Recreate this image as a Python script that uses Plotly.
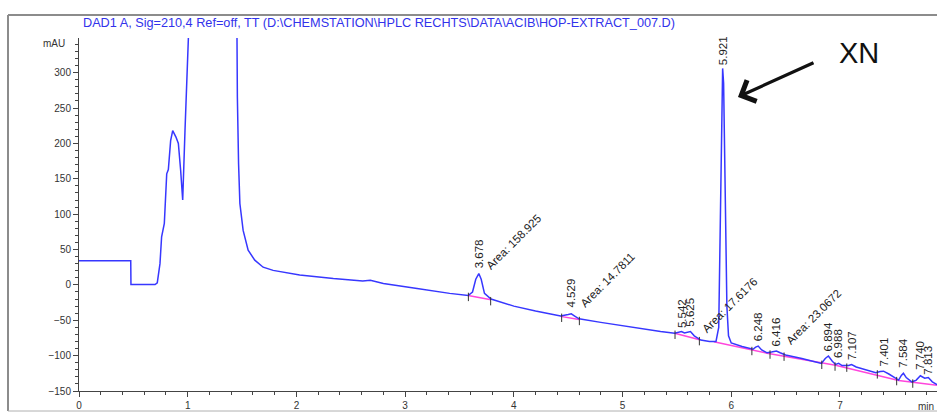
import plotly.graph_objects as go

# Signal trace: retention time (min) and detector response (mAU)
time_min = [
    0.00, 0.470, 0.476, 0.478, 0.55, 0.66, 0.70, 0.72, 0.745, 0.76, 0.785,
    0.807, 0.818, 0.822, 0.843, 0.862, 0.892, 0.914, 0.935, 0.954, 0.975,
    1.006, 1.03, 1.20, 1.43, 1.451, 1.457, 1.468, 1.48, 1.51, 1.556, 1.617,
    1.694, 1.786, 1.91, 2.03, 2.34, 2.61, 2.68, 2.80, 3.11, 3.32, 3.41,
    3.58, 3.62, 3.65, 3.678, 3.70, 3.73, 3.79, 4.00, 4.20, 4.43, 4.50,
    4.529, 4.56, 4.60, 4.80, 5.00, 5.17, 5.35, 5.48, 5.52, 5.542, 5.57,
    5.60, 5.625, 5.66, 5.72, 5.80, 5.86, 5.885, 5.90, 5.915, 5.921, 5.93,
    5.945, 5.96, 5.975, 6.00, 6.10, 6.20, 6.225, 6.248, 6.28, 6.33, 6.37,
    6.40, 6.416, 6.45, 6.50, 6.65, 6.83, 6.865, 6.894, 6.93, 6.96, 6.988,
    7.02, 7.08, 7.107, 7.15, 7.33, 7.37, 7.401, 7.45, 7.54, 7.565, 7.584,
    7.61, 7.66, 7.70, 7.740, 7.78, 7.813, 7.85, 7.893,
]
signal_mau = [
    34, 34, 34, 0.5, 0.5, -0.5, 0.5, 3, 30, 68, 87,
    157, 160, 163, 204, 218, 209, 200, 162, 120, 218,
    348, 900, 1500, 900, 348, 265, 171, 115, 77, 49, 35,
    25, 20.5, 17.5, 14, 9, 5.6, 6.5, 2, -5, -10, -12,
    -15, -10, 8, 16, 8, -12, -20, -30, -37, -44, -42,
    -41, -44, -48, -53, -58, -62, -66, -68.5, -67, -66, -68,
    -67, -66, -72, -78, -80, -80, -60, 120, 290, 306, 285,
    120, -30, -72, -82, -87, -91, -88, -86.5, -92, -96, -95,
    -94, -93.5, -96, -99, -104, -111, -104, -100.5, -108, -112.5, -111,
    -114, -114, -112.5, -116, -124, -122.5, -122, -126, -134.5, -128, -125,
    -131, -137, -135, -128.5, -132, -131, -137, -141,
]

# Integration baselines (segments separated by None)
base_time = [3.58, 3.79, None, 4.43, 4.60, None, 5.48, 5.71, None,
             5.84, 6.33, 6.96, 7.54, 7.893]
base_mau = [-15, -21, None, -44.5, -49, None, -68.5, -77.5, None,
            -80.5, -96.5, -113.5, -135, -142]

# Integration event marks
event_time = [3.582, 3.787, 4.44, 4.603, 5.483, 5.707, 6.19, 6.357, 6.486,
              6.833, 6.955, 7.063, 7.344, 7.522, 7.67]
event_mau = [-17, -23, -46.5, -51, -70.5, -79.5, -93.5, -98.5, -101.5,
             -113, -115.5, -117, -126.5, -136, -139.5]

# Retention-time labels: time and label foot (mAU)
rt_labels = ["3.678", "4.529", "5.542", "5.625", "5.921", "6.248", "6.416",
             "6.894", "6.988", "7.107", "7.401", "7.584", "7.740", "7.813"]
rt_times = [3.678, 4.529, 5.542, 5.625, 5.921, 6.248, 6.416,
            6.894, 6.988, 7.107, 7.401, 7.584, 7.740, 7.813]
rt_label_foot = [21, -35, -64, -62, 308, -83, -90,
                 -97, -106, -109, -118, -120, -123, -130]

# Peak area labels
area_labels = ["Area: 158.925", "Area: 14.7811", "Area: 17.6176", "Area: 23.0672"]
area_times = [3.70, 4.565, 5.69, 6.46]
area_foot = [14, -38.7, -75, -92]

title_text = r"DAD1 A, Sig=210,4 Ref=off, TT (D:\CHEMSTATION\HPLC RECHTS\DATA\ACIB\HOP-EXTRACT_007.D)"

W, H = 937, 412
L, R, T, B = 79, 0, 38, 21
PW, PH = W - L - R, H - T - B


def px_x(px):
    return (px - L) / PW


def px_y(py):
    return 1 - (py - T) / PH


FONT = "Arial, Liberation Sans, sans-serif"

fig = go.Figure()
fig.add_trace(go.Scatter(x=base_time, y=base_mau, mode="lines",
                         line=dict(color="rgb(255,70,220)", width=1.5),
                         connectgaps=False, hoverinfo="skip"))
fig.add_trace(go.Scatter(x=time_min, y=signal_mau, mode="lines",
                         line=dict(color="rgb(55,55,255)", width=1.5)))
fig.add_trace(go.Scatter(x=event_time, y=event_mau, mode="markers",
                         marker=dict(symbol="line-ns", size=6,
                                     line=dict(color="#333", width=1)),
                         hoverinfo="skip"))

annotations = []
for txt, t, yv in zip(rt_labels, rt_times, rt_label_foot):
    annotations.append(dict(x=t, y=yv, xref="x", yref="y", text=txt,
                            textangle=-90, showarrow=False,
                            xanchor="center", yanchor="bottom",
                            font=dict(family=FONT, size=11.5, color="#222")))
for txt, t, yv in zip(area_labels, area_times, area_foot):
    annotations.append(dict(x=t, y=yv, xref="x", yref="y", text=txt,
                            textangle=-45, showarrow=False,
                            xanchor="left", yanchor="bottom",
                            font=dict(family=FONT, size=11.5, color="#222")))

annotations += [
    dict(x=px_x(81), y=px_y(23), xref="paper", yref="paper", text=title_text,
         showarrow=False, xanchor="left", yanchor="middle",
         font=dict(family=FONT, size=12.7, color="rgb(50,50,235)")),
    dict(x=px_x(67), y=px_y(44), xref="paper", yref="paper", text="mAU",
         showarrow=False, xanchor="right", yanchor="middle",
         font=dict(family=FONT, size=10, color="#333")),
    dict(x=px_x(916), y=px_y(407), xref="paper", yref="paper", text="min",
         showarrow=False, xanchor="left", yanchor="middle",
         font=dict(family=FONT, size=10, color="#333")),
    dict(x=px_x(859), y=px_y(53), xref="paper", yref="paper", text="XN",
         showarrow=False, xanchor="center", yanchor="middle",
         font=dict(family=FONT, size=29, color="#111")),
    dict(x=px_x(738), y=px_y(97), xref="paper", yref="paper", text="",
         showarrow=True, ax=77, ay=-35, arrowhead=4, arrowsize=1.4,
         arrowwidth=3.2, arrowcolor="#111", standoff=0),
]

shapes = [
    dict(type="line", xref="paper", yref="paper", x0=px_x(8), x1=px_x(950),
         y0=px_y(15), y1=px_y(15), line=dict(color="#8c8c8c", width=2)),
    dict(type="line", xref="paper", yref="paper", x0=px_x(8), x1=px_x(8),
         y0=px_y(15), y1=px_y(411), line=dict(color="#8c8c8c", width=2)),
    dict(type="line", xref="paper", yref="paper", x0=px_x(8), x1=px_x(950),
         y0=px_y(411), y1=px_y(411), line=dict(color="#b0b0b0", width=1)),
]

axis_common = dict(showgrid=False, zeroline=False, showline=True,
                   linecolor="#444", linewidth=1, ticks="outside", ticklen=5,
                   tickcolor="#444", tickwidth=1,
                   tickfont=dict(family=FONT, size=10, color="#333"))

fig.update_layout(
    width=W, height=H,
    margin=dict(l=L, r=R, t=T, b=B),
    paper_bgcolor="white", plot_bgcolor="white",
    showlegend=False,
    font=dict(family=FONT),
    xaxis=dict(range=[0, 7.893], tickmode="linear", tick0=0, dtick=1,
               minor=dict(dtick=0.2, ticks="outside", ticklen=3,
                          tickcolor="#444", showgrid=False),
               **axis_common),
    yaxis=dict(range=[-150, 349], tickmode="linear", tick0=0, dtick=50,
               minor=dict(dtick=10, ticks="outside", ticklen=3,
                          tickcolor="#444", showgrid=False),
               **axis_common),
    annotations=annotations,
    shapes=shapes,
)

fig.write_html("out.html")
